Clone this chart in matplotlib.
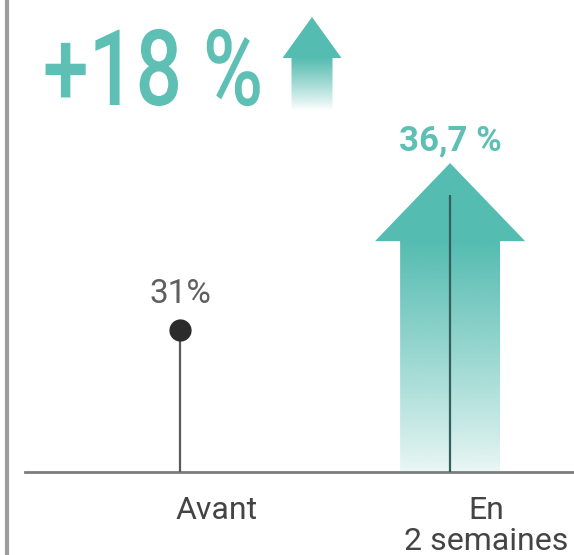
import numpy as np
import matplotlib
matplotlib.use('Agg')
import matplotlib.pyplot as plt
from matplotlib.patches import Polygon
from matplotlib.patheffects import AbstractPathEffect
from matplotlib.transforms import Affine2D
from matplotlib.colors import to_rgb

plt.rcParams['font.family'] = ['Roboto', 'DejaVu Sans']

# --- donnees ---
categories = ['Avant', 'En\n2 semaines']
valeurs = [31.0, 36.7]
etiquettes = ['31%', '36,7 %']
hausse = '+18 %'

TEAL = '#55bcb1'
TEAL_TXT = '#5ec0b4'
GRIS = '#444444'


class Condense(AbstractPathEffect):
    """Resserre le texte horizontalement (police type DIN condensed)"""
    def __init__(self, sx):
        super().__init__()
        self.sx = sx

    def draw_path(self, renderer, gc, tpath, affine, rgbFace=None):
        x0 = tpath.get_extents(affine).x0
        sq = Affine2D().translate(-x0, 0).scale(self.sx, 1).translate(x0, 0)
        renderer.draw_path(gc, tpath, affine + sq, rgbFace)


def fleche_degrade(ax, xc, y_base, y_tip, head_len, hw_shaft, hw_head, a_bas, zorder=2):
    y_head = y_tip - head_len
    verts = [(xc - hw_shaft, y_base), (xc - hw_shaft, y_head), (xc - hw_head, y_head),
             (xc, y_tip), (xc + hw_head, y_head), (xc + hw_shaft, y_head),
             (xc + hw_shaft, y_base)]
    poly = Polygon(verts, closed=True, facecolor='none', edgecolor='none')
    ax.add_patch(poly)
    n = 300
    yy = np.linspace(y_base, y_tip, n)
    t = np.clip((yy - y_base) / (y_head - y_base), 0, 1)
    alpha = a_bas + (1 - a_bas) * t ** 0.9
    rgba = np.zeros((n, 1, 4))
    rgba[:, 0, :3] = to_rgb(TEAL)
    rgba[:, 0, 3] = alpha
    im = ax.imshow(rgba, extent=[xc - hw_head, xc + hw_head, y_base, y_tip],
                   origin='lower', aspect='auto', interpolation='bilinear', zorder=zorder)
    im.set_clip_path(poly)


fig = plt.figure(figsize=(5.74, 5.55), dpi=100)
fig.patch.set_facecolor('white')

# --- axe principal (donnees) ---
ax = fig.add_axes([0, 0, 1, 1])
ax.axis('off')
BASE = 25.0
x = np.arange(len(categories))

ax.axhline(BASE, xmin=25 / 574, xmax=1, color='#7c7c7c', lw=2.0, zorder=3)

# Avant : tige + point
ax.vlines(x[0], BASE, valeurs[0], color='#5a5a5a', lw=1.6, zorder=3)
ax.plot(x[0], valeurs[0], 'o', ms=15, color='#2b2b2b', zorder=4)
ax.annotate(etiquettes[0], (x[0], valeurs[0]), xytext=(0, 26), textcoords='offset points',
            ha='center', va='center', fontsize=24, color='#5f5f5f')

# En 2 semaines : grande fleche degradee
fleche_degrade(ax, x[1], BASE, valeurs[1] + 1.35, 3.3, 0.185, 0.278, 0.12)
ax.vlines(x[1], BASE, valeurs[1], color='#345f5c', lw=1.6, zorder=3)
ax.annotate(etiquettes[1], (x[1], valeurs[1] + 1.35), xytext=(0, 16), textcoords='offset points',
            ha='center', va='center', fontsize=25, fontweight='bold', color=TEAL_TXT)

for xi, cat in zip(x, categories):
    ax.annotate(cat, (xi, BASE), xytext=(26, -17), textcoords='offset points',
                ha='center', va='top', fontsize=23, color=GRIS, linespacing=1.1)

ax.set_xlim(-0.667, 1.459)
ax.set_ylim(21.49, 44.94)

# --- en-tete (coordonnees pixels) ---
hdr = fig.add_axes([0, 0, 1, 1])
hdr.axis('off')
hdr.plot([6.5, 6.5], [0, 555], color='#9d9d9d', lw=3)
fleche_degrade(hdr, 312, 445, 538, 41, 20.5, 29.5, 0.0)
hdr.set_xlim(0, 574)
hdr.set_ylim(0, 555)

fig.text(42 / 574, (555 - 105) / 555, hausse, fontsize=76, color=TEAL_TXT, fontweight='medium',
         ha='left', va='baseline', path_effects=[Condense(0.78)])

plt.savefig('out.png', dpi=100, facecolor='white')
